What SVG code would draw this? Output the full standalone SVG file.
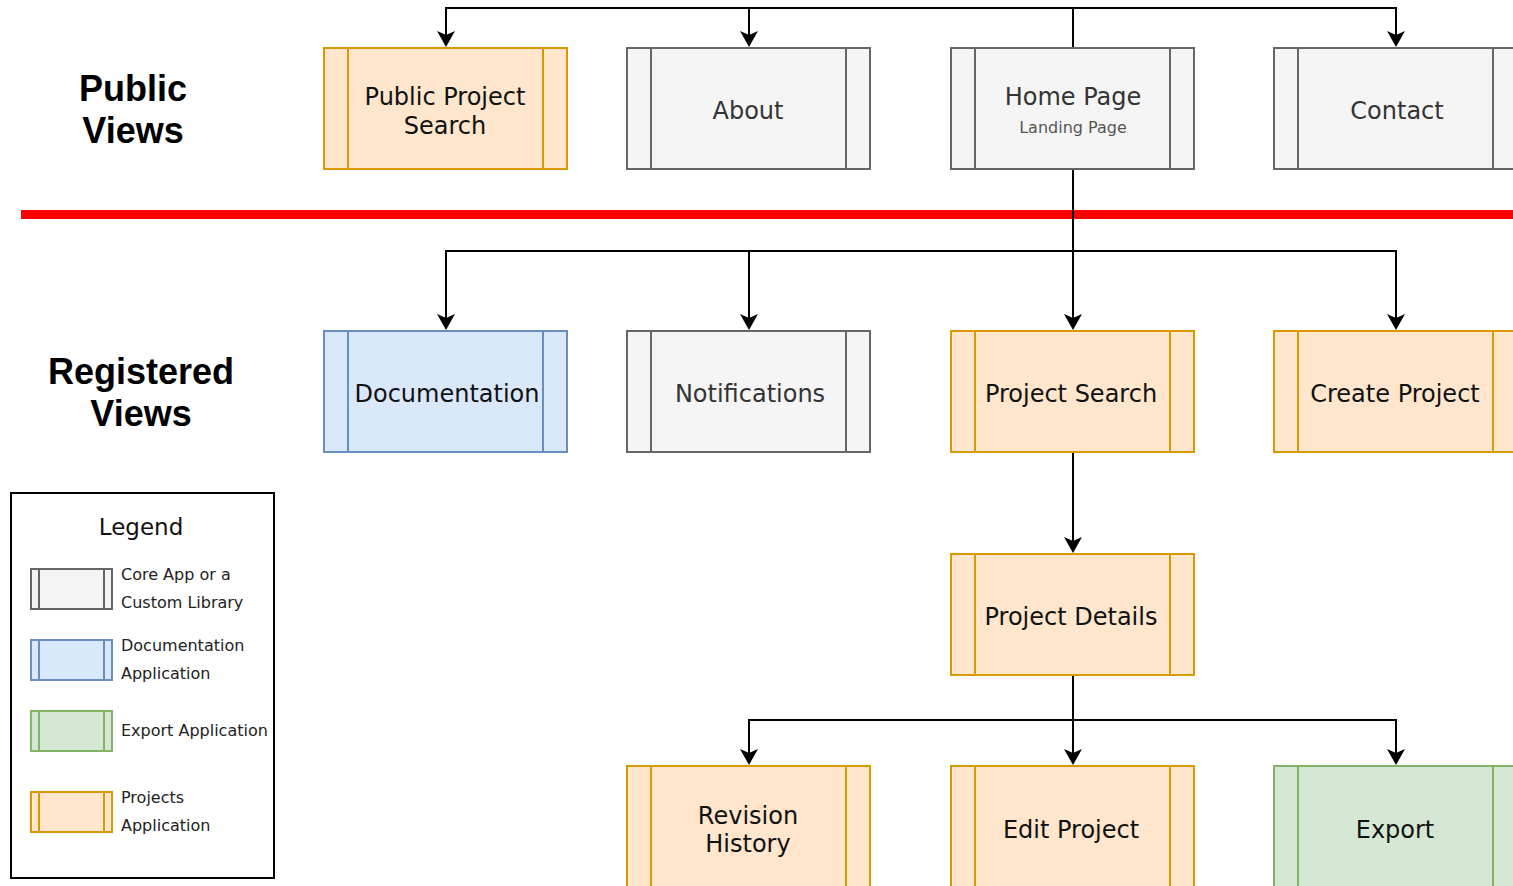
<svg xmlns="http://www.w3.org/2000/svg" width="1513" height="886" viewBox="0 0 1513 886">
<style>
  .box{stroke-width:2}
  .orange{fill:#ffe6cc;stroke:#d79b00}
  .gray{fill:#f5f5f5;stroke:#666666}
  .blue{fill:#dae8fc;stroke:#6c8ebf}
  .green{fill:#d5e8d4;stroke:#82b366}
  .lbl{font-family:"DejaVu Sans",Verdana,sans-serif;font-size:24px;fill:#111;text-anchor:middle}
  .lblg{fill:#333}
  .sub{font-family:"DejaVu Sans",Verdana,sans-serif;font-size:16px;fill:#555;text-anchor:middle}
  .title{font-family:"Liberation Sans",Arial,sans-serif;font-weight:bold;font-size:36px;fill:#000;text-anchor:middle}
  .leg{font-family:"DejaVu Sans",Verdana,sans-serif;font-size:16px;fill:#222}
  .conn{fill:none;stroke:#000;stroke-width:2}
</style>
<defs>
  <marker id="arr" viewBox="0 0 16 18" refX="4" refY="9" markerWidth="16" markerHeight="18" markerUnits="userSpaceOnUse" orient="auto">
    <path d="M0,0 L16,9 L0,18 L4,9 Z" fill="#000"/>
  </marker>
</defs>
<rect width="1513" height="886" fill="#fff"/>

<text class="title" x="133" y="101">Public</text>
<text class="title" x="133" y="143">Views</text>
<text class="title" x="141" y="384">Registered</text>
<text class="title" x="141" y="426">Views</text>

<rect x="21" y="210" width="1492" height="9" fill="#ff0000"/>

<g id="connectors">
  <path class="conn" d="M1073,48 V8 H446 V35" marker-end="url(#arr)"/>
  <path class="conn" d="M1073,48 V8 H749 V35" marker-end="url(#arr)"/>
  <path class="conn" d="M1073,48 V8 H1396 V35" marker-end="url(#arr)"/>
  <path class="conn" d="M1073,169 V251 H446 V318" marker-end="url(#arr)"/>
  <path class="conn" d="M1073,169 V251 H749 V318" marker-end="url(#arr)"/>
  <path class="conn" d="M1073,169 V318" marker-end="url(#arr)"/>
  <path class="conn" d="M1073,169 V251 H1396 V318" marker-end="url(#arr)"/>
  <path class="conn" d="M1073,452 V541" marker-end="url(#arr)"/>
  <path class="conn" d="M1073,675 V720 H749 V753" marker-end="url(#arr)"/>
  <path class="conn" d="M1073,675 V753" marker-end="url(#arr)"/>
  <path class="conn" d="M1073,675 V720 H1396 V753" marker-end="url(#arr)"/>
</g>

<g id="public-project-search">
  <rect class="box orange" x="324" y="48" width="243" height="121"/>
  <path class="box orange" d="M348,48 V169 M543,48 V169"/>
  <text class="lbl" x="445" y="105">Public Project</text>
  <text class="lbl" x="445" y="134">Search</text>
</g>
<g id="about">
  <rect class="box gray" x="627" y="48" width="243" height="121"/>
  <path class="box gray" d="M651,48 V169 M846,48 V169"/>
  <text class="lbl lblg" x="748" y="119">About</text>
</g>
<g id="home-page">
  <rect class="box gray" x="951" y="48" width="243" height="121"/>
  <path class="box gray" d="M975,48 V169 M1170,48 V169"/>
  <text class="lbl lblg" x="1073" y="105">Home Page</text>
  <text class="sub" x="1073" y="133">Landing Page</text>
</g>
<g id="contact">
  <rect class="box gray" x="1274" y="48" width="243" height="121"/>
  <path class="box gray" d="M1298,48 V169 M1493,48 V169"/>
  <text class="lbl lblg" x="1397" y="119">Contact</text>
</g>

<g id="documentation">
  <rect class="box blue" x="324" y="331" width="243" height="121"/>
  <path class="box blue" d="M348,331 V452 M543,331 V452"/>
  <text class="lbl" x="447" y="402">Documentation</text>
</g>
<g id="notifications">
  <rect class="box gray" x="627" y="331" width="243" height="121"/>
  <path class="box gray" d="M651,331 V452 M846,331 V452"/>
  <text class="lbl lblg" x="750" y="402">Notifications</text>
</g>
<g id="project-search">
  <rect class="box orange" x="951" y="331" width="243" height="121"/>
  <path class="box orange" d="M975,331 V452 M1170,331 V452"/>
  <text class="lbl" x="1071" y="402">Project Search</text>
</g>
<g id="create-project">
  <rect class="box orange" x="1274" y="331" width="243" height="121"/>
  <path class="box orange" d="M1298,331 V452 M1493,331 V452"/>
  <text class="lbl" x="1395" y="402">Create Project</text>
</g>

<g id="project-details">
  <rect class="box orange" x="951" y="554" width="243" height="121"/>
  <path class="box orange" d="M975,554 V675 M1170,554 V675"/>
  <text class="lbl" x="1071" y="625">Project Details</text>
</g>

<g id="revision-history">
  <rect class="box orange" x="627" y="766" width="243" height="121"/>
  <path class="box orange" d="M651,766 V887 M846,766 V887"/>
  <text class="lbl" x="748" y="824">Revision</text>
  <text class="lbl" x="748" y="852">History</text>
</g>
<g id="edit-project">
  <rect class="box orange" x="951" y="766" width="243" height="121"/>
  <path class="box orange" d="M975,766 V887 M1170,766 V887"/>
  <text class="lbl" x="1071" y="838">Edit Project</text>
</g>
<g id="export">
  <rect class="box green" x="1274" y="766" width="243" height="121"/>
  <path class="box green" d="M1298,766 V887 M1493,766 V887"/>
  <text class="lbl" x="1395" y="838">Export</text>
</g>

<g id="legend">
  <rect x="11" y="493" width="263" height="385" fill="#fff" stroke="#000" stroke-width="2"/>
  <text class="lbl" x="141" y="535" style="font-size:23px">Legend</text>
  <rect class="box gray" x="31" y="569" width="81" height="40"/>
  <path class="box gray" d="M39,569 V609 M104,569 V609"/>
  <text class="leg" x="121" y="580">Core App or a</text>
  <text class="leg" x="121" y="608">Custom Library</text>
  <rect class="box blue" x="31" y="640" width="81" height="40"/>
  <path class="box blue" d="M39,640 V680 M104,640 V680"/>
  <text class="leg" x="121" y="651">Documentation</text>
  <text class="leg" x="121" y="679">Application</text>
  <rect class="box green" x="31" y="711" width="81" height="40"/>
  <path class="box green" d="M39,711 V751 M104,711 V751"/>
  <text class="leg" x="121" y="736">Export Application</text>
  <rect class="box orange" x="31" y="792" width="81" height="40"/>
  <path class="box orange" d="M39,792 V832 M104,792 V832"/>
  <text class="leg" x="121" y="803">Projects</text>
  <text class="leg" x="121" y="831">Application</text>
</g>
</svg>
